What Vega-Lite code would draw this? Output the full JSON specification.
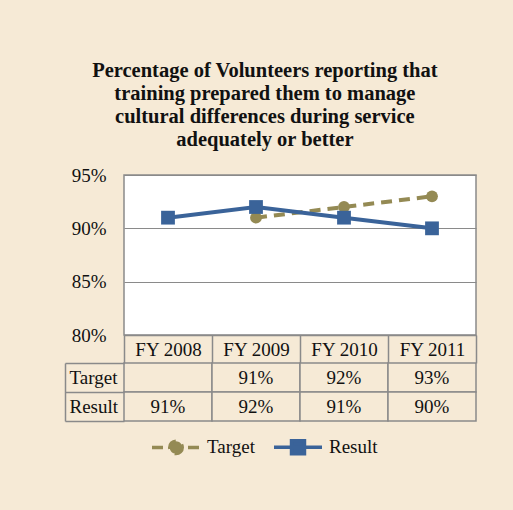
{
  "$schema": "https://vega.github.io/schema/vega-lite/v6.json",
  "background": "#F6EAD6",
  "padding": {"left": 64, "top": 60, "right": 38, "bottom": 60},
  "title": {
    "text": ["Percentage of Volunteers reporting that", "training prepared them to manage", "cultural differences during service", "adequately or better"],
    "font": "Liberation Serif",
    "fontSize": 20.5,
    "fontWeight": "bold",
    "lineHeight": 23,
    "color": "#111111",
    "anchor": "middle",
    "frame": "bounds",
    "dx": -6,
    "offset": 15
  },
  "data": {
    "values": [
      {"year": "FY 2008", "series": "Target", "value": null},
      {"year": "FY 2009", "series": "Target", "value": 0.91},
      {"year": "FY 2010", "series": "Target", "value": 0.92},
      {"year": "FY 2011", "series": "Target", "value": 0.93},
      {"year": "FY 2008", "series": "Result", "value": 0.91},
      {"year": "FY 2009", "series": "Result", "value": 0.92},
      {"year": "FY 2010", "series": "Result", "value": 0.91},
      {"year": "FY 2011", "series": "Result", "value": 0.90}
    ]
  },
  "spacing": 28,
  "bounds": "flush",
  "vconcat": [
    {
      "width": 352,
      "height": 160,
      "view": {"fill": "white", "stroke": "#8a8a8a", "strokeWidth": 1.5},
      "encoding": {
        "x": {
          "field": "year",
          "type": "nominal",
          "sort": null,
          "scale": {"paddingInner": 0, "paddingOuter": 0},
          "axis": {
            "title": null,
            "orient": "bottom",
            "labelAngle": 0,
            "tickBand": "extent",
            "tickSize": 28,
            "tickColor": "#8a8a8a",
            "tickWidth": 1.5,
            "domainColor": "#8a8a8a",
            "domainWidth": 1.5,
            "labelBaseline": "middle",
            "labelPadding": -14,
            "grid": false
          }
        },
        "y": {
          "field": "value",
          "type": "quantitative",
          "scale": {"domain": [0.8, 0.95], "nice": false, "zero": false},
          "axis": {
            "title": null,
            "values": [0.8, 0.85, 0.9, 0.95],
            "format": ".0%",
            "domain": false,
            "ticks": false,
            "labelPadding": 18,
            "grid": true,
            "gridColor": "#8a8a8a",
            "gridWidth": 1.2,
            "gridOpacity": 1
          }
        },
        "color": {
          "field": "series",
          "type": "nominal",
          "scale": {"domain": ["Target", "Result"], "range": ["#948A54", "#3A6399"]},
          "legend": {
            "title": null,
            "orient": "none",
            "direction": "horizontal",
            "legendX": 26,
            "legendY": 246,
            "symbolType": "M-1,0H1M0.26,0A0.26,0.26,0,1,1,-0.26,0A0.26,0.26,0,1,1,0.26,0Z",
            "symbolSize": 2304,
            "symbolStrokeWidth": 3.5,
            "labelFont": "Liberation Serif",
            "labelFontSize": 19,
            "labelColor": "#111111",
            "labelOffset": 5,
            "columnPadding": 12,
            "encode": {
              "symbols": {
                "update": {
                  "shape": {"signal": "datum.value === 'Target' ? 'M-1,0H1M0.26,0A0.26,0.26,0,1,1,-0.26,0A0.26,0.26,0,1,1,0.26,0Z' : 'M-1,0H1M-0.27,-0.27H0.27V0.27H-0.27Z'"},
                  "strokeDash": {"signal": "datum.value === 'Target' ? [11, 7] : [1, 0]"},
                  "fill": {"signal": "datum.value === 'Target' ? '#948A54' : '#3A6399'"},
                  "stroke": {"signal": "datum.value === 'Target' ? '#948A54' : '#3A6399'"},
                  "strokeWidth": {"value": 3.5},
                  "opacity": {"value": 1},
                  "fillOpacity": {"value": 1},
                  "strokeOpacity": {"value": 1}
                }
              }
            }
          }
        }
      },
      "layer": [
        {
          "transform": [{"filter": "datum.series === 'Target'"}],
          "mark": {"type": "line", "strokeWidth": 4, "strokeDash": [11, 7]}
        },
        {
          "transform": [{"filter": "datum.series === 'Target'"}],
          "mark": {"type": "point", "shape": "circle", "filled": true, "size": 140, "opacity": 1}
        },
        {
          "transform": [{"filter": "datum.series === 'Result'"}],
          "mark": {"type": "line", "strokeWidth": 4}
        },
        {
          "transform": [{"filter": "datum.series === 'Result'"}],
          "mark": {"type": "point", "shape": "square", "filled": true, "size": 190, "opacity": 1}
        }
      ]
    },
    {
      "width": 352,
      "height": 58,
      "view": {"stroke": null},
      "encoding": {
        "x": {
          "field": "year",
          "type": "nominal",
          "sort": null,
          "scale": {"paddingInner": 0, "paddingOuter": 0},
          "axis": null
        },
        "y": {
          "field": "series",
          "type": "nominal",
          "sort": ["Target", "Result"],
          "scale": {"paddingInner": 0, "paddingOuter": 0},
          "axis": {
            "title": null,
            "offset": 59,
            "tickBand": "extent",
            "tickSize": -59,
            "tickColor": "#8a8a8a",
            "tickWidth": 1.5,
            "domainColor": "#8a8a8a",
            "domainWidth": 1.5,
            "labelAlign": "left",
            "labelPadding": 55,
            "labelFont": "Liberation Serif",
            "labelFontSize": 19,
            "labelColor": "#111111",
            "grid": false
          }
        }
      },
      "layer": [
        {
          "mark": {"type": "rect", "fill": "#F6EAD6", "stroke": "#8a8a8a", "strokeWidth": 1.5}
        },
        {
          "transform": [{"filter": "isValid(datum.value)"}],
          "mark": {"type": "text", "font": "Liberation Serif", "fontSize": 19, "color": "#111111"},
          "encoding": {
            "text": {"field": "value", "type": "quantitative", "format": ".0%"}
          }
        }
      ]
    }
  ],
  "config": {
    "axis": {
      "labelFont": "Liberation Serif",
      "labelFontSize": 19,
      "labelColor": "#111111"
    }
  }
}
